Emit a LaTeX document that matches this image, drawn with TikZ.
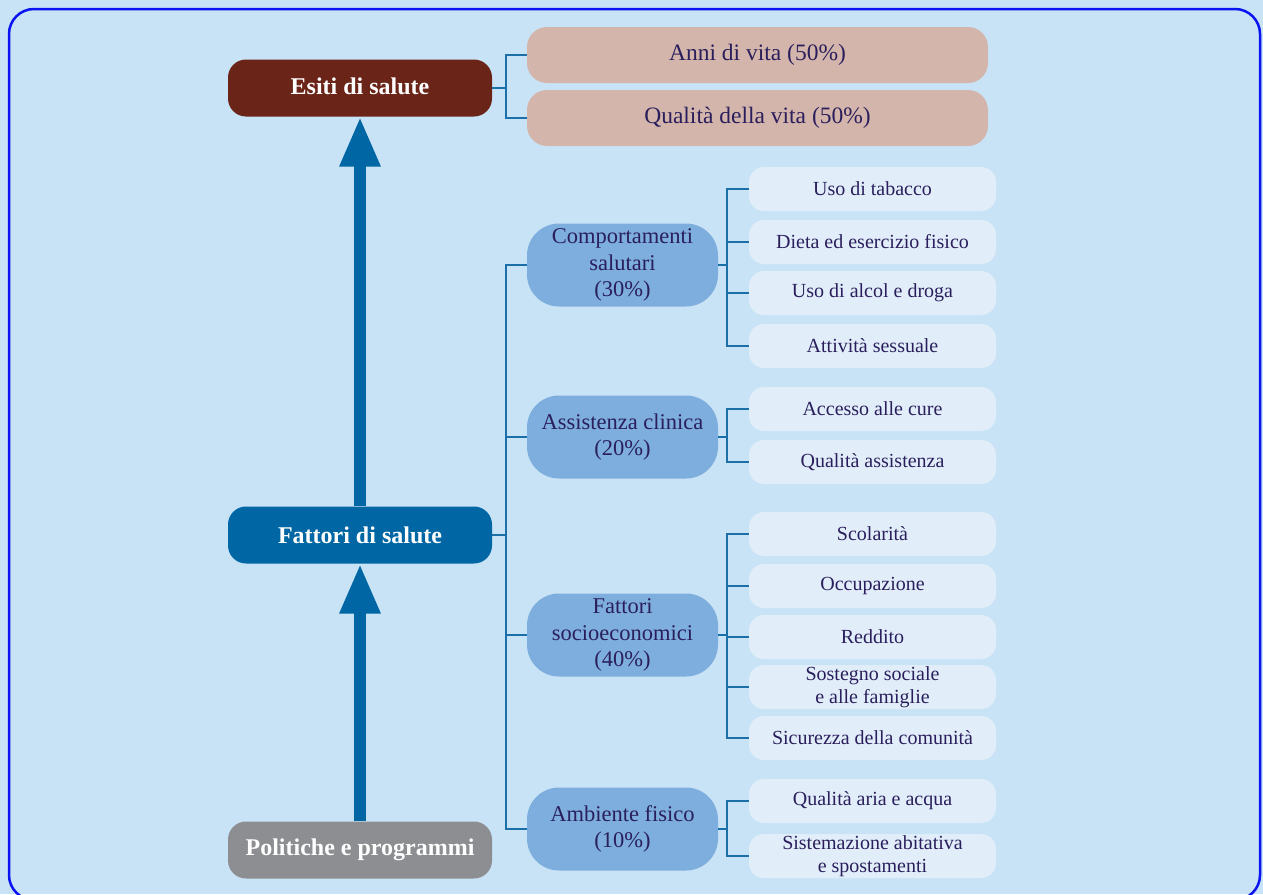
\documentclass[tikz,border=0pt]{standalone}
\usepackage{fontspec}
\setmainfont{Liberation Serif}
\usetikzlibrary{arrows.meta}
\definecolor{bg}{HTML}{C9E3F6}
\definecolor{framec}{HTML}{0A14F0}
\definecolor{esitic}{HTML}{6A2518}
\definecolor{fattoric}{HTML}{0066A4}
\definecolor{politc}{HTML}{8C8E91}
\definecolor{outc}{HTML}{D4B5AB}
\definecolor{catc}{HTML}{7DAEDD}
\definecolor{itemc}{HTML}{E1EEFA}
\definecolor{ink}{HTML}{2A1F5C}
\definecolor{linkc}{HTML}{1C70AA}
\begin{document}
\begin{tikzpicture}[x=1pt,y=-1pt,
 mainbox/.style={rounded corners=18pt, minimum width=264pt, minimum height=57pt, text=white, font=\fontsize{24}{28}\selectfont\bfseries, inner sep=0pt},
 outbox/.style={fill=outc, rounded corners=20pt, minimum width=461pt, minimum height=56pt, text=ink, font=\fontsize{23.5}{27}\selectfont, inner sep=0pt},
 catbox/.style={fill=catc, rounded corners=32pt, minimum width=191pt, minimum height=83pt, text=ink, font=\fontsize{22.5}{26.5}\selectfont, align=center, inner sep=0pt},
 itembox/.style={fill=itemc, rounded corners=15pt, minimum width=247pt, minimum height=44pt, text=ink, font=\fontsize{20}{23}\selectfont, align=center, inner sep=0pt},
 link/.style={draw=linkc, line width=1.5pt},
 bigarrow/.style={draw=fattoric, line width=12pt, -{Triangle[width=38pt,length=50pt]}}
]
\fill[bg] (0,0) rectangle (1263,894);
\useasboundingbox (0,0) rectangle (1263,894);
\begin{scope}
\clip (0,0) rectangle (1263,894);
\draw[framec, line width=2.5pt, rounded corners=25pt] (9,9) rectangle (1260,900);
\end{scope}

% left column
\node[mainbox, fill=esitic] (esiti) at (360,88) {\raisebox{4pt}{Esiti di salute}};
\node[mainbox, fill=fattoric] (fattori) at (360,535) {Fattori di salute};
\node[mainbox, fill=politc] (polit) at (360,850) {Politiche e programmi};

\draw[bigarrow] (fattori.north) -- (esiti.south);
\draw[bigarrow] (polit.north) -- (fattori.south);

% outcomes
\node[outbox] (anni) at (757.5,55) {Anni di vita (50\%)};
\node[outbox] (qual) at (757.5,118) {Qualità della vita (50\%)};
\draw[link] (anni.west) -- ++(-21,0) |- (qual.west);
\draw[link] (esiti.east) -- ++(14,0);

% categories
\node[catbox] (comp) at (622.5,265) {Comportamenti\\salutari\\(30\%)};
\node[catbox] (assist) at (622.5,437) {Assistenza clinica\\(20\%)};
\node[catbox] (socio) at (622.5,635) {Fattori\\socioeconomici\\(40\%)};
\node[catbox] (amb) at (622.5,829) {Ambiente fisico\\(10\%)};
\draw[link] (comp.west) -- ++(-21,0) |- (amb.west);
\draw[link] (assist.west) -- ++(-21,0);
\draw[link] (socio.west) -- ++(-21,0);
\draw[link] (fattori.east) -- ++(14,0);

% items
\node[itembox] (tab) at (872.5,189) {Uso di tabacco};
\node[itembox] (dieta) at (872.5,242) {Dieta ed esercizio fisico};
\node[itembox] (alcol) at (872.5,293) {Uso di alcol e droga};
\node[itembox] (sess) at (872.5,346) {Attività sessuale};
\node[itembox] (acc) at (872.5,409) {Accesso alle cure};
\node[itembox] (qass) at (872.5,462) {Qualità assistenza};
\node[itembox] (scol) at (872.5,534) {Scolarità};
\node[itembox] (occ) at (872.5,586) {Occupazione};
\node[itembox] (redd) at (872.5,637) {Reddito};
\node[itembox] (sost) at (872.5,687) {Sostegno sociale\\e alle famiglie};
\node[itembox] (sic) at (872.5,738) {Sicurezza della comunità};
\node[itembox] (aria) at (872.5,801) {Qualità aria e acqua};
\node[itembox] (sist) at (872.5,856) {Sistemazione abitativa\\e spostamenti};

\draw[link] (tab.west) -- ++(-22,0) |- (sess.west);
\draw[link] (dieta.west) -- ++(-22,0);
\draw[link] (alcol.west) -- ++(-22,0);
\draw[link] (comp.east) -- ++(9,0);

\draw[link] (acc.west) -- ++(-22,0) |- (qass.west);
\draw[link] (assist.east) -- ++(9,0);

\draw[link] (scol.west) -- ++(-22,0) |- (sic.west);
\draw[link] (occ.west) -- ++(-22,0);
\draw[link] (redd.west) -- ++(-22,0);
\draw[link] (sost.west) -- ++(-22,0);
\draw[link] (socio.east) -- ++(9,0);

\draw[link] (aria.west) -- ++(-22,0) |- (sist.west);
\draw[link] (amb.east) -- ++(9,0);
\end{tikzpicture}
\end{document}
